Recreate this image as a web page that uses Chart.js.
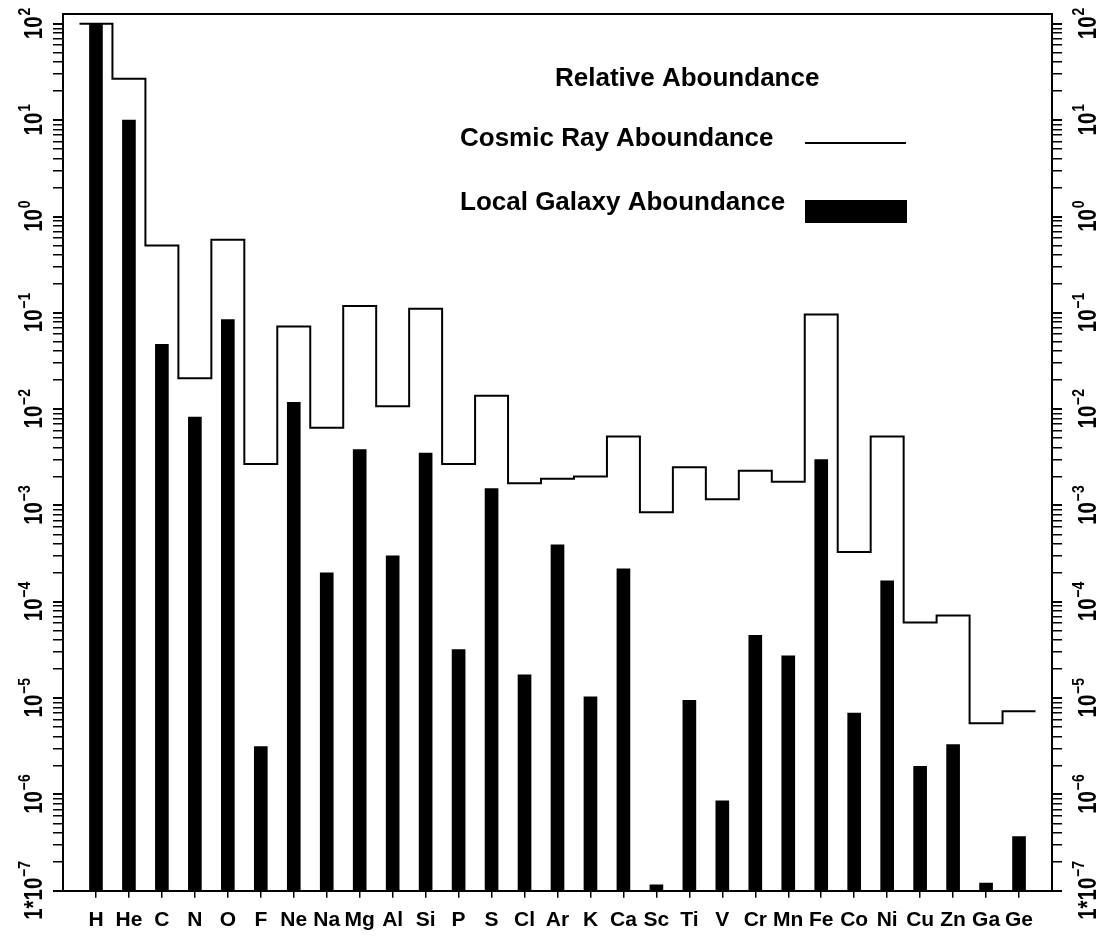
<!DOCTYPE html>
<html>
<head>
<meta charset="utf-8">
<title>Relative Aboundance</title>
<script src="https://cdn.jsdelivr.net/npm/chart.js@4.4.1/dist/chart.umd.min.js"></script>
<style>
  html, body { margin: 0; padding: 0; background: #fff; }
  #wrap { width: 1099px; height: 945px; }
</style>
</head>
<body>
<div id="wrap"><canvas id="abundanceChart" width="1099" height="945"></canvas></div>
<script>
// Elements along the x axis
const elements = ['H', 'He', 'C', 'N', 'O', 'F', 'Ne', 'Na', 'Mg', 'Al', 'Si', 'P', 'S', 'Cl',
  'Ar', 'K', 'Ca', 'Sc', 'Ti', 'V', 'Cr', 'Mn', 'Fe', 'Co', 'Ni', 'Cu', 'Zn', 'Ga', 'Ge'];

// Cosmic ray abundance (step line)
const cosmicRay = [100, 27, 0.50, 0.021, 0.575, 0.0027, 0.072, 0.0064, 0.118, 0.0107,
  0.110, 0.0027, 0.0138, 0.0017, 0.0019, 0.0020, 0.0052, 0.00085, 0.0025, 0.00116,
  0.0023, 0.00176, 0.096, 0.00033, 0.0052, 6.1e-5, 7.2e-5, 5.5e-6, 7.3e-6];

// Local galaxy abundance (bars)
const localGalaxy = [100, 10, 0.047, 0.0083, 0.085, 3.15e-6, 0.0118, 0.0002, 0.0038, 0.0003,
  0.0035, 3.2e-5, 0.0015, 1.75e-5, 0.00039, 1.03e-5, 0.00022, 1.15e-7, 9.5e-6, 8.6e-7,
  4.5e-5, 2.75e-5, 0.003, 7e-6, 0.000165, 1.96e-6, 3.3e-6, 1.2e-7, 3.65e-7];

// Log axis: labelled decades and minor tick multipliers
const yExponents = [-7, -6, -5, -4, -3, -2, -1, 0, 1, 2];
const minorSteps = [2, 3, 4, 5, 6, 7, 8, 9];
const Y_MIN = 1e-7;
const Y_MAX = 126.6;

const chartTitle = 'Relative Aboundance';
const FONT = '"Liberation Sans", Arial, sans-serif';

// Step outline: each element gets a flat segment one unit wide
function stepPoints(values) {
  const pts = [];
  values.forEach((v, i) => {
    pts.push({ x: i + 0.5, y: v });
    pts.push({ x: i + 1.5, y: v });
  });
  return pts;
}

function logTicks() {
  const ticks = [];
  yExponents.forEach(p => {
    ticks.push({ value: Math.pow(10, p), major: true });
    if (p < 2) minorSteps.forEach(m => ticks.push({ value: m * Math.pow(10, p), major: false }));
  });
  return ticks;
}

function yAxis(position) {
  return {
    type: 'logarithmic',
    position: position,
    min: Y_MIN,
    max: Y_MAX,
    afterBuildTicks: scale => { scale.ticks = logTicks(); },
    ticks: { display: false },
    grid: {
      display: true,
      drawOnChartArea: false,
      drawTicks: true,
      tickLength: 10,
      color: '#000',
      lineWidth: ctx => (ctx.tick && ctx.tick.major ? 2 : 1.5)
    },
    border: { display: true, color: '#000', width: 2 }
  };
}

// Rotated "10^n" labels on both vertical axes
function drawPowerLabel(ctx, baseX, y, p) {
  const main = p === -7 ? '1*10' : '10';
  const exp = String(p).replace('-', '\u2212');
  ctx.save();
  ctx.translate(baseX, y);
  ctx.rotate(-Math.PI / 2);
  ctx.scale(0.82, 1);
  ctx.font = 'bold 25px ' + FONT;
  const wMain = ctx.measureText(main).width;
  ctx.font = 'bold 17px ' + FONT;
  const wExp = ctx.measureText(exp).width;
  const start = -(wMain + wExp) / 2;
  ctx.fillStyle = '#000';
  ctx.textAlign = 'left';
  ctx.textBaseline = 'alphabetic';
  ctx.font = 'bold 25px ' + FONT;
  ctx.fillText(main, start, 0);
  ctx.font = 'bold 17px ' + FONT;
  ctx.fillText(exp, start + wMain + 1, -12);
  ctx.restore();
}

const axisLabelPlugin = {
  id: 'powerLabels',
  afterDraw(chart) {
    const ctx = chart.ctx;
    const left = chart.scales.y;
    const right = chart.scales.y2;
    yExponents.forEach(p => {
      drawPowerLabel(ctx, 42, left.getPixelForValue(Math.pow(10, p)), p);
      drawPowerLabel(ctx, 1096, right.getPixelForValue(Math.pow(10, p)), p);
    });
  }
};

const legendPlugin = {
  id: 'abundanceLegend',
  afterDraw(chart) {
    const ctx = chart.ctx;
    const [line, bars] = chart.data.datasets;
    ctx.save();
    ctx.fillStyle = '#000';
    ctx.strokeStyle = '#000';
    ctx.font = 'bold 26px ' + FONT;
    ctx.textAlign = 'left';
    ctx.textBaseline = 'alphabetic';
    ctx.fillText(chartTitle, 555, 86);
    ctx.fillText(line.label, 460, 146);
    ctx.lineWidth = 2;
    ctx.beginPath();
    ctx.moveTo(805, 143);
    ctx.lineTo(906, 143);
    ctx.stroke();
    ctx.fillText(bars.label, 460, 210);
    ctx.fillRect(805, 200, 102, 23);
    ctx.restore();
  }
};

function createAbundanceChart() {
  const ctx = document.getElementById('abundanceChart').getContext('2d');
  new Chart(ctx, {
    type: 'bar',
    data: {
      datasets: [{
        type: 'line',
        label: 'Cosmic Ray Aboundance',
        data: stepPoints(cosmicRay),
        borderColor: '#000',
        borderWidth: 2,
        pointRadius: 0,
        tension: 0,
        fill: false,
        yAxisID: 'y'
      }, {
        type: 'bar',
        label: 'Local Galaxy Aboundance',
        data: localGalaxy.map((v, i) => ({ x: i + 1, y: v })),
        backgroundColor: '#000',
        barThickness: 13,
        yAxisID: 'y'
      }]
    },
    options: {
      responsive: false,
      animation: false,
      devicePixelRatio: 1,
      layout: { padding: { left: 53, right: 37, top: 14, bottom: 2 } },
      plugins: {
        legend: { display: false },
        tooltip: { enabled: false }
      },
      scales: {
        x: {
          type: 'linear',
          position: 'bottom',
          offset: false,
          min: 0,
          max: 30,
          afterBuildTicks: scale => { scale.ticks = elements.map((_, i) => ({ value: i + 1 })); },
          ticks: {
            autoSkip: false,
            maxRotation: 0,
            minRotation: 0,
            padding: 10,
            color: '#000',
            font: { family: FONT, size: 21, weight: 'bold' },
            callback: value => elements[value - 1]
          },
          grid: {
            display: true,
            offset: false,
            drawOnChartArea: false,
            drawTicks: true,
            tickLength: 7,
            color: '#000',
            lineWidth: 1.5
          },
          border: { display: true, color: '#000', width: 2 }
        },
        xTop: {
          type: 'linear',
          axis: 'x',
          position: 'top',
          offset: false,
          min: 0,
          max: 30,
          ticks: { display: false },
          grid: { display: false, offset: false, drawTicks: false },
          border: { display: true, color: '#000', width: 2 }
        },
        y: yAxis('left'),
        y2: yAxis('right')
      }
    },
    plugins: [axisLabelPlugin, legendPlugin]
  });
}

document.addEventListener('DOMContentLoaded', createAbundanceChart);
</script>
</body>
</html>
